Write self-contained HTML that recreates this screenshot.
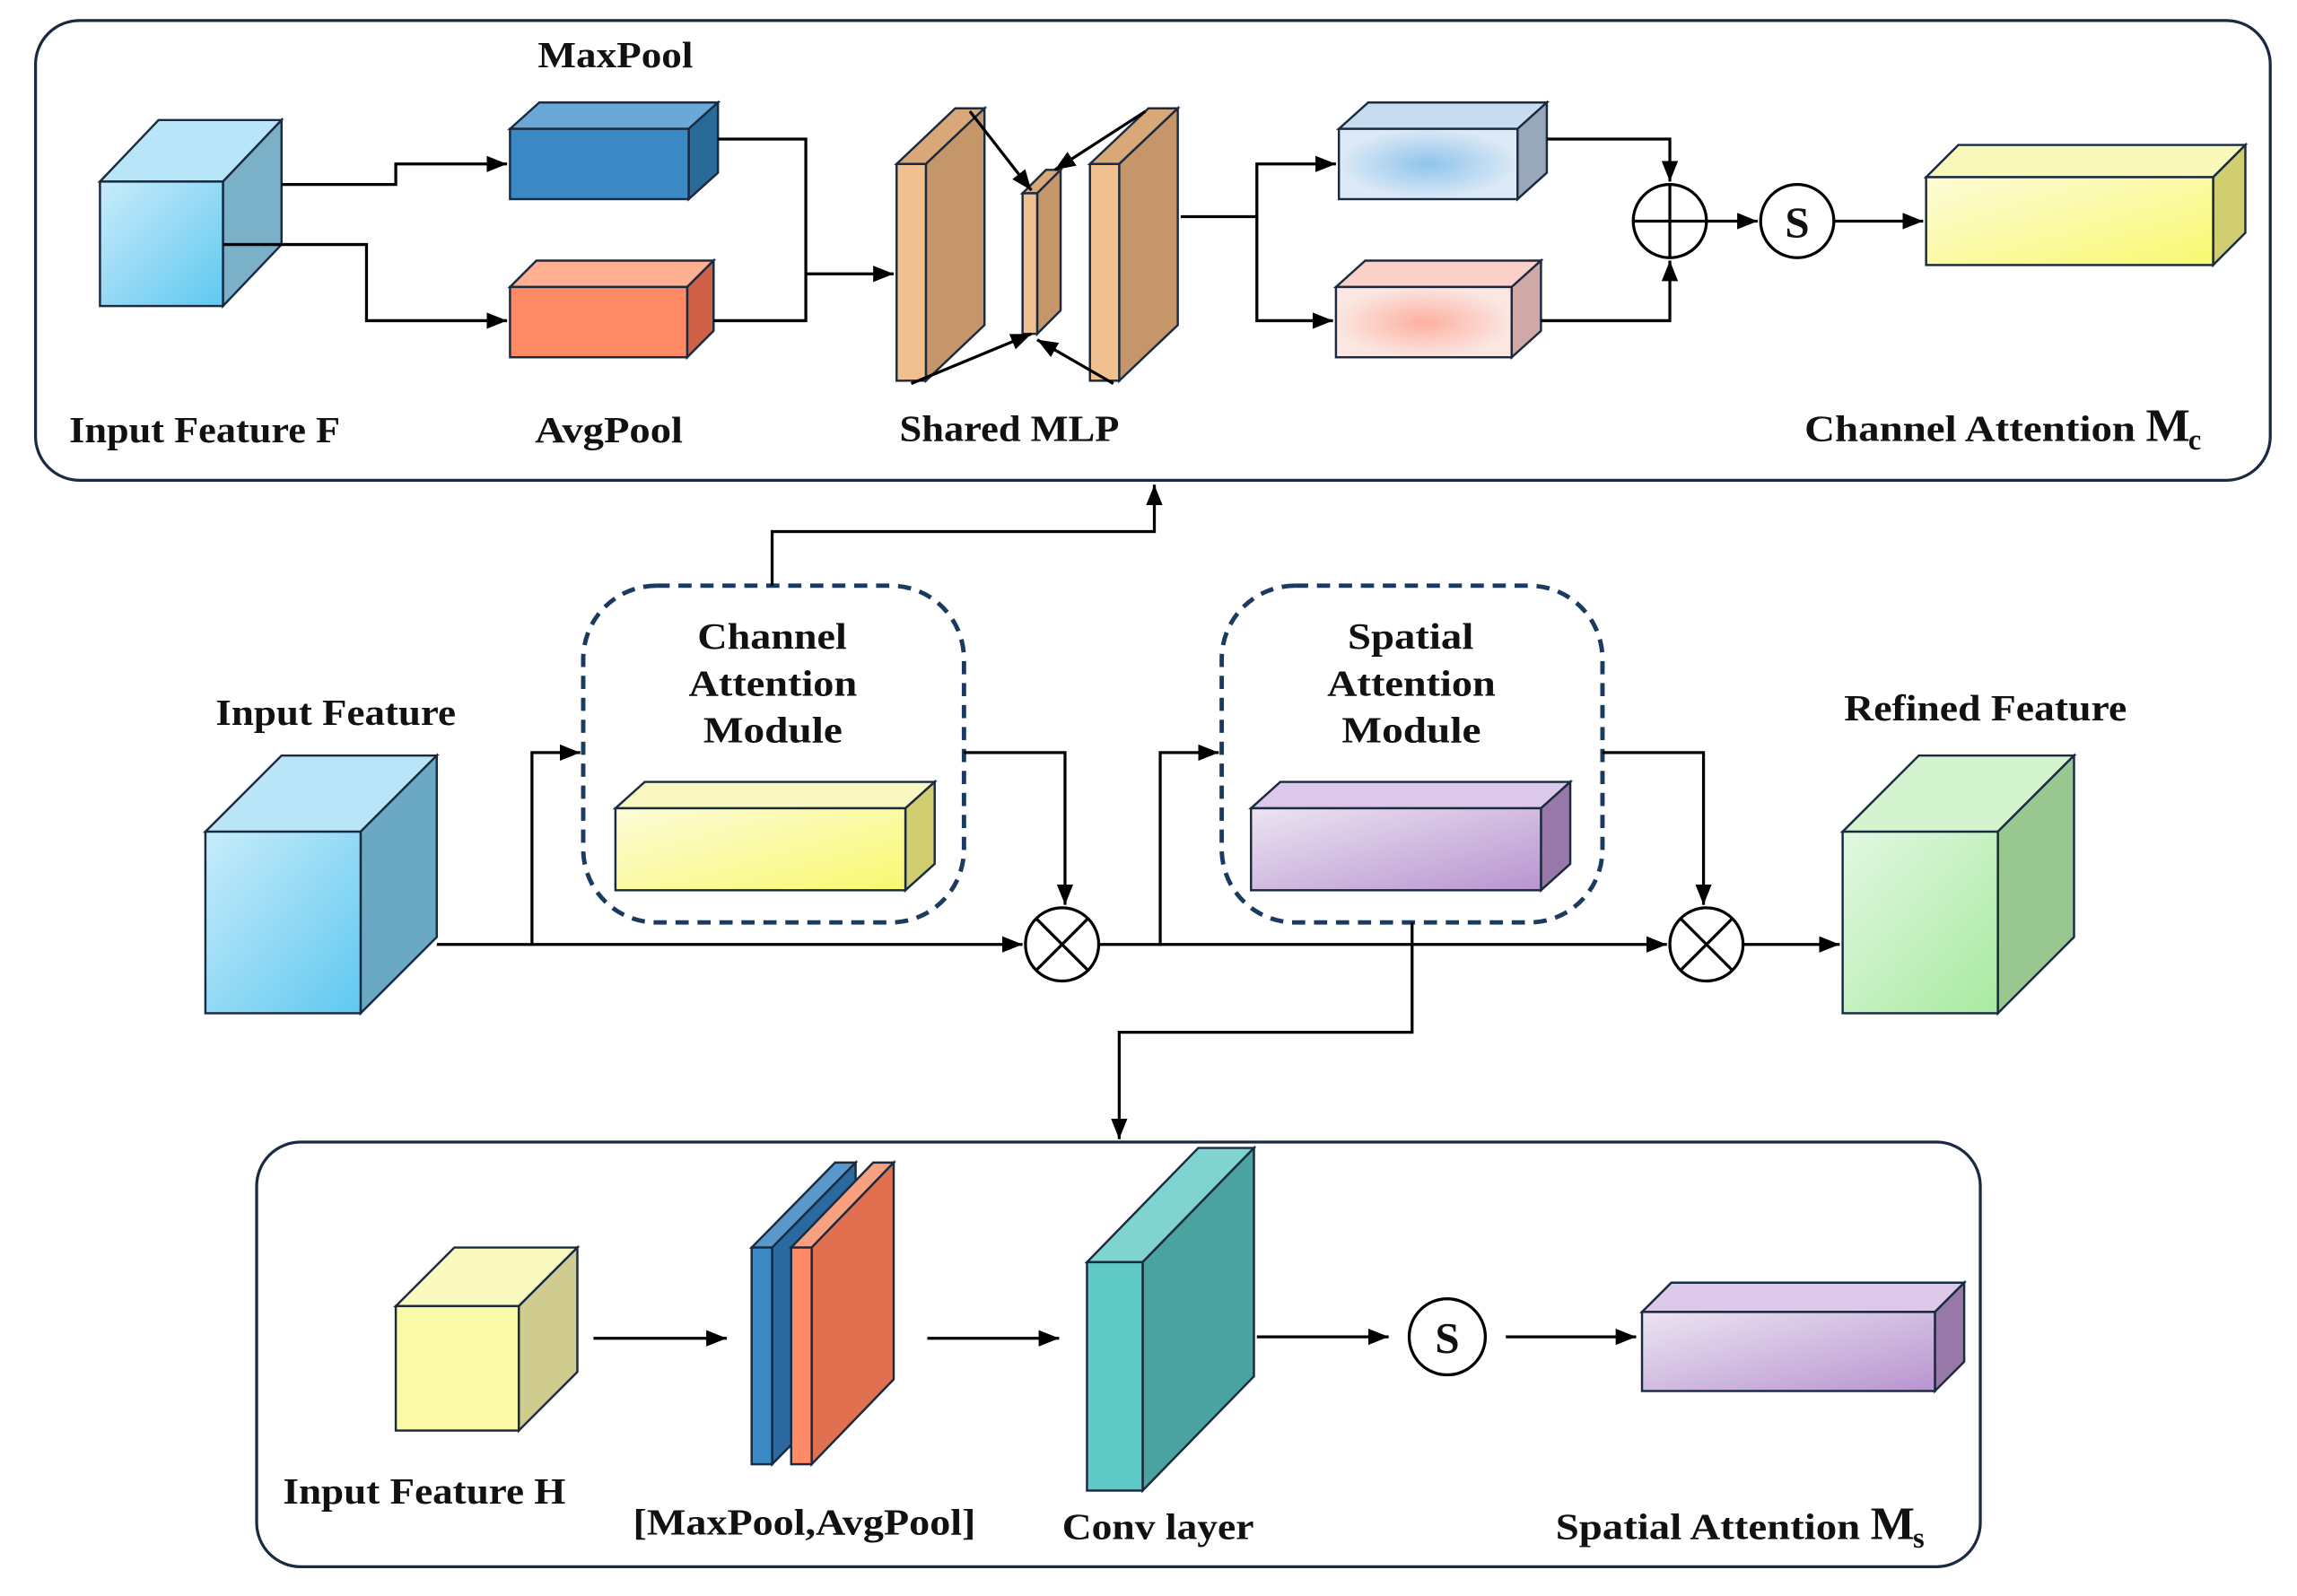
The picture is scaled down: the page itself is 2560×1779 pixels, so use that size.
<!DOCTYPE html>
<html><head><meta charset="utf-8"><style>
html,body{margin:0;padding:0;background:#fff;}
svg{display:block;}
text{font-family:"Liberation Serif",serif;font-weight:bold;font-size:25px;fill:#111;}
</style></head><body>
<svg width="2560" height="1779" viewBox="0 0 1568 1090" xmlns="http://www.w3.org/2000/svg">
<defs>
<marker id="a" viewBox="0 0 10 10" refX="10" refY="5" markerWidth="7" markerHeight="7" orient="auto-start-reverse"><path d="M0,1 L10,5 L0,9 z" fill="#000"/></marker>
<linearGradient id="gb" x1="0" y1="0" x2="1" y2="1"><stop offset="0" stop-color="#c8ecfb"/><stop offset="1" stop-color="#5fc8f0"/></linearGradient>
<linearGradient id="gg" x1="0" y1="0" x2="1" y2="1"><stop offset="0" stop-color="#e2f8e2"/><stop offset="1" stop-color="#a8eaa0"/></linearGradient>
<linearGradient id="gy" x1="0" y1="0" x2="1" y2="1"><stop offset="0" stop-color="#fdfcd8"/><stop offset="1" stop-color="#f8f870"/></linearGradient>
<linearGradient id="gp" x1="0" y1="0" x2="1" y2="1"><stop offset="0" stop-color="#ece4f2"/><stop offset="1" stop-color="#b894d0"/></linearGradient>
<radialGradient id="rb"><stop offset="0" stop-color="#8ec4ec"/><stop offset="1" stop-color="#dde9f6"/></radialGradient>
<radialGradient id="rp"><stop offset="0" stop-color="#fdb0a0"/><stop offset="1" stop-color="#fbe6e2"/></radialGradient>
</defs>
<g stroke="#1a2a40" stroke-width="2" fill="none">
<rect x="24" y="14" width="1526" height="314" rx="30"/>
<rect x="175" y="780" width="1177" height="290" rx="30"/>
</g>
<g stroke="#1a3a60" stroke-width="3" stroke-dasharray="9,6" fill="none">
<rect x="398" y="400" width="260" height="230" rx="50"/>
<rect x="834" y="400" width="260" height="230" rx="50"/>
</g>
<g stroke="#1a2a40" stroke-width="1.5">
<polygon points="68,124 108,82 192,82 152,124" fill="#b8e6f8"/>
<polygon points="152,124 192,82 192,167 152,209" fill="#7ab0c8"/>
<rect x="68" y="124" width="84" height="85" fill="url(#gb)"/>
<polygon points="348,88 368,70 490,70 470,88" fill="#6aa8d8"/>
<polygon points="470,88 490,70 490,118 470,136" fill="#2a6a98"/>
<rect x="348" y="88" width="122" height="48" fill="#3a88c4"/>
<polygon points="348,196 366,178 487,178 469,196" fill="#ffb090"/>
<polygon points="469,196 487,178 487,226 469,244" fill="#d06048"/>
<rect x="348" y="196" width="121" height="48" fill="#ff8a66"/>
<polygon points="612,112 652,74 672,74 632,112" fill="#d8a878"/>
<polygon points="632,112 672,74 672,222 632,260" fill="#c4966a"/>
<rect x="612" y="112" width="20" height="148" fill="#f0c090"/>
<polygon points="698,132 714,116 724,116 708,132" fill="#d8a878"/>
<polygon points="708,132 724,116 724,212 708,228" fill="#c4966a"/>
<rect x="698" y="132" width="10" height="96" fill="#f0c090"/>
<polygon points="744,112 784,74 804,74 764,112" fill="#d8a878"/>
<polygon points="764,112 804,74 804,222 764,260" fill="#c4966a"/>
<rect x="744" y="112" width="20" height="148" fill="#f0c090"/>
<polygon points="914,88 934,70 1056,70 1036,88" fill="#c8dcf0"/>
<polygon points="1036,88 1056,70 1056,118 1036,136" fill="#98a8b8"/>
<rect x="914" y="88" width="122" height="48" fill="url(#rb)"/>
<polygon points="912,196 932,178 1052,178 1032,196" fill="#fad0c8"/>
<polygon points="1032,196 1052,178 1052,226 1032,244" fill="#d0a8a8"/>
<rect x="912" y="196" width="120" height="48" fill="url(#rp)"/>
<polygon points="1315,121 1337,99 1533,99 1511,121" fill="#f8f8b8"/>
<polygon points="1511,121 1533,99 1533,159 1511,181" fill="#d0cc70"/>
<rect x="1315" y="121" width="196" height="60" fill="url(#gy)"/>
<polygon points="140,568 192,516 298,516 246,568" fill="#b8e6f8"/>
<polygon points="246,568 298,516 298,640 246,692" fill="#6aa8c4"/>
<rect x="140" y="568" width="106" height="124" fill="url(#gb)"/>
<polygon points="1258,568 1310,516 1416,516 1364,568" fill="#d4f4d0"/>
<polygon points="1364,568 1416,516 1416,640 1364,692" fill="#98c890"/>
<rect x="1258" y="568" width="106" height="124" fill="url(#gg)"/>
<polygon points="420,552 440,534 638,534 618,552" fill="#f8f8c0"/>
<polygon points="618,552 638,534 638,590 618,608" fill="#d0cc70"/>
<rect x="420" y="552" width="198" height="56" fill="url(#gy)"/>
<polygon points="854,552 874,534 1072,534 1052,552" fill="#dcc8e8"/>
<polygon points="1052,552 1072,534 1072,590 1052,608" fill="#9878a8"/>
<rect x="854" y="552" width="198" height="56" fill="url(#gp)"/>
<polygon points="270,892 310,852 394,852 354,892" fill="#fafac0"/>
<polygon points="354,892 394,852 394,937 354,977" fill="#d0cc90"/>
<rect x="270" y="892" width="84" height="85" fill="#fafaa8"/>
<polygon points="513,852 570,794 584,794 527,852" fill="#5a98cc"/>
<polygon points="527,852 584,794 584,942 527,1000" fill="#2a6aa0"/>
<rect x="513" y="852" width="14" height="148" fill="#3a88c4"/>
<polygon points="540,852 596,794 610,794 554,852" fill="#f8a080"/>
<polygon points="554,852 610,794 610,942 554,1000" fill="#e07050"/>
<rect x="540" y="852" width="14" height="148" fill="#ff8a66"/>
<polygon points="742,862 818,784 856,784 780,862" fill="#80d4d0"/>
<polygon points="780,862 856,784 856,940 780,1018" fill="#4aa39e"/>
<rect x="742" y="862" width="38" height="156" fill="#5fc9c6"/>
<polygon points="1121,896 1141,876 1341,876 1321,896" fill="#dcc8e8"/>
<polygon points="1321,896 1341,876 1341,930 1321,950" fill="#9878a8"/>
<rect x="1121" y="896" width="200" height="54" fill="url(#gp)"/>
</g>
<g stroke="#000" stroke-width="2" fill="none">
<polyline points="192,126 270,126 270,112 346,112" marker-end="url(#a)"/>
<polyline points="152,167 250,167 250,219 346,219" marker-end="url(#a)"/>
<polyline points="490,95 550,95 550,219 487,219"/>
<polyline points="550,187 610,187" marker-end="url(#a)"/>
<line x1="662" y1="76" x2="704" y2="130" marker-end="url(#a)"/>
<line x1="782" y1="76" x2="720" y2="116" marker-end="url(#a)"/>
<line x1="622" y1="262" x2="704" y2="228" marker-end="url(#a)"/>
<line x1="760" y1="262" x2="708" y2="232" marker-end="url(#a)"/>
<polyline points="806,148 858,148 858,112 912,112" marker-end="url(#a)"/>
<polyline points="858,148 858,219 910,219" marker-end="url(#a)"/>
<polyline points="1056,95 1140,95 1140,124" marker-end="url(#a)"/>
<polyline points="1052,219 1140,219 1140,178" marker-end="url(#a)"/>
<line x1="1165" y1="151" x2="1200" y2="151" marker-end="url(#a)"/>
<line x1="1252" y1="151" x2="1313" y2="151" marker-end="url(#a)"/>
<line x1="298" y1="645" x2="698" y2="645" marker-end="url(#a)"/>
<polyline points="363,645 363,514 396,514" marker-end="url(#a)"/>
<polyline points="658,514 727,514 727,618" marker-end="url(#a)"/>
<polyline points="750,645 792,645 792,514 832,514" marker-end="url(#a)"/>
<line x1="792" y1="645" x2="1138" y2="645" marker-end="url(#a)"/>
<polyline points="1094,514 1163,514 1163,618" marker-end="url(#a)"/>
<line x1="1190" y1="645" x2="1256" y2="645" marker-end="url(#a)"/>
<polyline points="527,400 527,363 788,363 788,331" marker-end="url(#a)"/>
<polyline points="964,630 964,705 764,705 764,778" marker-end="url(#a)"/>
<line x1="405" y1="914" x2="496" y2="914" marker-end="url(#a)"/>
<line x1="633" y1="914" x2="723" y2="914" marker-end="url(#a)"/>
<line x1="858" y1="913" x2="948" y2="913" marker-end="url(#a)"/>
<line x1="1028" y1="913" x2="1117" y2="913" marker-end="url(#a)"/>
</g>
<g stroke="#000" stroke-width="2" fill="#fff">
<circle cx="1140" cy="151" r="25"/>
<circle cx="1227" cy="151" r="25"/>
<circle cx="725" cy="645" r="25"/>
<circle cx="1165" cy="645" r="25"/>
<circle cx="988" cy="913" r="26"/>
</g>
<g stroke="#000" stroke-width="2">
<line x1="1115" y1="151" x2="1165" y2="151"/><line x1="1140" y1="126" x2="1140" y2="176"/>
<line x1="707" y1="627" x2="743" y2="663"/><line x1="743" y1="627" x2="707" y2="663"/>
<line x1="1147" y1="627" x2="1183" y2="663"/><line x1="1183" y1="627" x2="1147" y2="663"/>
</g>
<text x="1227" y="162" text-anchor="middle" style="font-size:30px">S</text>
<text x="988" y="924" text-anchor="middle" style="font-size:30px">S</text>
<text x="367" y="46" textLength="106" lengthAdjust="spacingAndGlyphs">MaxPool</text>
<text x="47" y="302" textLength="185" lengthAdjust="spacingAndGlyphs">Input Feature F</text>
<text x="365" y="302" textLength="101" lengthAdjust="spacingAndGlyphs">AvgPool</text>
<text x="614" y="301" textLength="150" lengthAdjust="spacingAndGlyphs">Shared MLP</text>
<text x="1232" y="301" textLength="226" lengthAdjust="spacingAndGlyphs">Channel Attention</text>
<text x="1465" y="301" style="font-size:32px">M</text><text x="1494" y="307" style="font-size:20px">c</text>
<text x="147" y="495" textLength="164" lengthAdjust="spacingAndGlyphs">Input Feature</text>
<text x="1259" y="492" textLength="193" lengthAdjust="spacingAndGlyphs">Refined Feature</text>
<text x="476" y="443" textLength="102" lengthAdjust="spacingAndGlyphs">Channel</text>
<text x="470" y="475" textLength="115" lengthAdjust="spacingAndGlyphs">Attention</text>
<text x="480" y="507" textLength="95" lengthAdjust="spacingAndGlyphs">Module</text>
<text x="920" y="443" textLength="86" lengthAdjust="spacingAndGlyphs">Spatial</text>
<text x="906" y="475" textLength="115" lengthAdjust="spacingAndGlyphs">Attention</text>
<text x="916" y="507" textLength="95" lengthAdjust="spacingAndGlyphs">Module</text>
<text x="193" y="1027" textLength="193" lengthAdjust="spacingAndGlyphs">Input Feature H</text>
<text x="432" y="1048" textLength="234" lengthAdjust="spacingAndGlyphs">[MaxPool,AvgPool]</text>
<text x="725" y="1051" textLength="131" lengthAdjust="spacingAndGlyphs">Conv layer</text>
<text x="1062" y="1051" textLength="208" lengthAdjust="spacingAndGlyphs">Spatial Attention</text>
<text x="1277" y="1051" style="font-size:32px">M</text><text x="1306" y="1057" style="font-size:20px">s</text>
</svg>
</body></html>
